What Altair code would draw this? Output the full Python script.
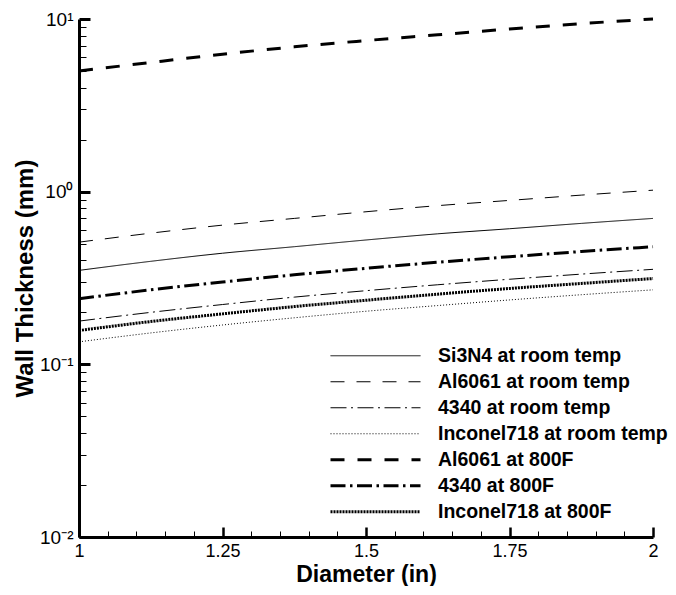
import altair as alt
import pandas as pd

# ---- data ----
diameter = [1.0, 1.125, 1.25, 1.375, 1.5, 1.625, 1.75, 1.875, 2.0]

series_names = [
    "Si3N4 at room temp",
    "Al6061 at room temp",
    "4340 at room temp",
    "Inconel718 at room temp",
    "Al6061 at 800F",
    "4340 at 800F",
    "Inconel718 at 800F",
]

si3n4_room = [0.35, 0.395, 0.44, 0.48, 0.525, 0.57, 0.61, 0.655, 0.70]
al6061_room = [0.51, 0.575, 0.64, 0.70, 0.765, 0.83, 0.89, 0.955, 1.02]
s4340_room = [0.178, 0.20, 0.222, 0.245, 0.267, 0.289, 0.311, 0.333, 0.355]
inconel_room = [0.135, 0.152, 0.169, 0.186, 0.203, 0.219, 0.236, 0.253, 0.27]
al6061_800 = [5.0, 5.6, 6.25, 6.9, 7.5, 8.1, 8.75, 9.4, 10.0]
s4340_800 = [0.24, 0.27, 0.30, 0.33, 0.36, 0.39, 0.42, 0.45, 0.48]
inconel_800 = [0.157, 0.177, 0.196, 0.216, 0.235, 0.255, 0.275, 0.294, 0.314]

x_major = [1.0, 1.25, 1.5, 1.75, 2.0]
x_minor = [1.05, 1.1, 1.15, 1.2, 1.3, 1.35, 1.4, 1.45, 1.55, 1.6, 1.65, 1.7,
           1.8, 1.85, 1.9, 1.95]
y_major = [0.01, 0.1, 1, 10]
y_minor = [0.02, 0.03, 0.04, 0.05, 0.06, 0.07, 0.08, 0.09,
           0.2, 0.3, 0.4, 0.5, 0.6, 0.7, 0.8, 0.9,
           2, 3, 4, 5, 6, 7, 8, 9]

# ---- styles ----
dashes = [[1, 0], [14, 12], [16, 4.5, 2, 4.5], [1, 2], [14, 13], [15, 4.5, 2.5, 4.5], [2, 1]]
widths = [1, 1, 1, 1, 3, 3, 3]

all_series = [si3n4_room, al6061_room, s4340_room, inconel_room,
              al6061_800, s4340_800, inconel_800]
rows = []
for name, vals in zip(series_names, all_series):
    for d, v in zip(diameter, vals):
        rows.append({"D": d, "T": v, "series": name})
df = pd.DataFrame(rows)

FONT = "Liberation Sans"
W, H = 574, 518

xs = alt.Scale(domain=[1, 2], nice=False, zero=False)
ys = alt.Scale(type="log", domain=[0.01, 10], nice=False)

legend = alt.Legend(
    title=None, orient="none", legendX=250, legendY=324, padding=0,
    labelFont=FONT, labelFontSize=19.5, labelFontWeight="bold", labelColor="black",
    labelOffset=16, symbolSize=8100, clipHeight=25.5, symbolType="stroke",
    symbolStrokeColor="black", rowPadding=0, labelLimit=400,
)

ylabel_expr = ("datum.value >= 5 ? '10\u00b9' : datum.value >= 0.5 ? '10\u2070' : "
               "datum.value >= 0.05 ? '10\u207b\u00b9' : '10\u207b\u00b2'")

lines = alt.Chart(df).mark_line(color="black", interpolate="monotone").encode(
    x=alt.X("D:Q", scale=xs, title="Diameter (in)", axis=alt.Axis(
        values=x_major, orient="bottom", format=".3~g", labelFlush=False,
        tickSize={"expr": "-10"}, tickWidth=2.5, tickColor="black",
        domainWidth=3, domainColor="black", labelPadding=15,
        labelFont=FONT, labelFontSize=18, labelColor="black",
        titleFont=FONT, titleFontSize=23, titleFontWeight="bold", titleColor="black",
        titlePadding=3)),
    y=alt.Y("T:Q", scale=ys, title="Wall Thickness (mm)", axis=alt.Axis(
        values=y_major, orient="left", labelExpr=ylabel_expr, labelFlush=False,
        tickSize={"expr": "-11"}, tickWidth=3, tickColor="black",
        domainWidth=3, domainColor="black", labelPadding=17,
        labelFont=FONT, labelFontSize=19, labelColor="black",
        titleFont=FONT, titleFontSize=24, titleFontWeight="bold", titleColor="black",
        titlePadding=2)),
    strokeDash=alt.StrokeDash("series:N", scale=alt.Scale(domain=series_names, range=dashes),
                              legend=legend),
    strokeWidth=alt.StrokeWidth("series:N", scale=alt.Scale(type="ordinal", domain=series_names,
                                                            range=widths), legend=legend),
)

minor = alt.Chart(df).mark_point(opacity=0).encode(
    x=alt.X("D:Q", scale=xs, title=None, axis=alt.Axis(
        values=x_minor, orient="bottom", labels=False, domain=False,
        tickSize={"expr": "-6"}, tickWidth=1, tickColor="black")),
    y=alt.Y("T:Q", scale=ys, title=None, axis=alt.Axis(
        values=y_minor, orient="left", labels=False, domain=False,
        tickSize={"expr": "-7"}, tickWidth=1, tickColor="black")),
)

chart = alt.layer(minor, lines).resolve_axis(x="independent", y="independent").properties(
    width=W, height=H, padding={"left": 5, "top": 2, "right": 0, "bottom": 0}
).configure_view(stroke=None).configure_axis(grid=False)

chart.save("out.html", embed_options={"renderer": "svg", "actions": False})
